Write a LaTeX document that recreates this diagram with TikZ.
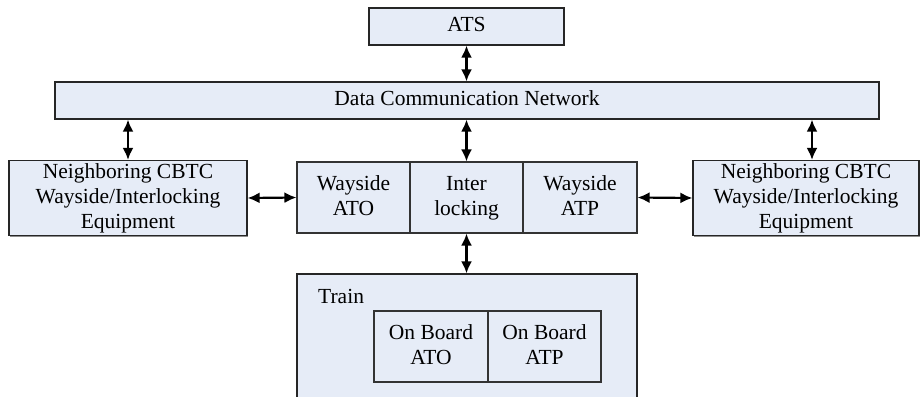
\documentclass[tikz,border=0pt]{standalone}
\usepackage{fontspec}
\setmainfont{Liberation Serif}
\usetikzlibrary{arrows.meta,shadows}
\definecolor{boxfill}{RGB}{230,236,247}
\tikzset{
  blk/.style={draw=black!85, line width=1.2bp, fill=boxfill, inner sep=0pt,
    align=center, font=\fontsize{21.5bp}{25bp}\selectfont,
    drop shadow={shadow xshift=1.4bp, shadow yshift=-1.4bp, fill=black!45, opacity=1}},
  inner/.style={draw=black!80, line width=1.1bp, fill=boxfill, inner sep=0pt,
    align=center, font=\fontsize{21.5bp}{25bp}\selectfont},
  link/.style={line width=2.2bp, {Latex[length=12bp,width=11bp]}-{Latex[length=12bp,width=11bp]}}
}
\begin{document}
\begin{tikzpicture}[x=1bp,y=-1bp]
  \useasboundingbox (0,0) rectangle (920,396);
  \clip (0,0) rectangle (920,396);

  % top level
  \node[blk, minimum width=195bp, minimum height=37bp] (ats) at (466.5,26.5) {\strut ATS};
  \node[blk, minimum width=824bp, minimum height=37bp] (dcn) at (467,100.5) {\strut Data Communication Network};

  % wayside equipment
  \node[blk, minimum width=238bp, minimum height=72bp] (lnb) at (128,198)
    {\strut Neighboring CBTC\\\strut Wayside/Interlocking\\\strut Equipment};
  \node[blk, minimum width=226bp, minimum height=72bp] (rnb) at (806,198)
    {\strut Neighboring CBTC\\\strut Wayside/Interlocking\\\strut Equipment};
  \node[blk, minimum width=340bp, minimum height=71bp] (core) at (467,197.5) {};
  \node[inner, minimum width=113bp, minimum height=71bp] (wato) at (353.5,197.5) {\strut Wayside\\\strut ATO};
  \node[inner, minimum width=113bp, minimum height=71bp] (intl) at (466.5,197.5) {\strut Inter\\\strut locking};
  \node[inner, minimum width=114bp, minimum height=71bp] (watp) at (580,197.5) {\strut Wayside\\\strut ATP};

  % train
  \node[blk, minimum width=340bp, minimum height=150bp] (train) at (467,349) {};
  \node[anchor=base west, inner sep=0pt, font=\fontsize{21.5bp}{25bp}\selectfont] (tlabel) at (318,303) {Train};
  \node[inner, minimum width=114bp, minimum height=71bp] (obato) at (431,346.5) {\strut On Board\\\strut ATO};
  \node[inner, minimum width=113bp, minimum height=71bp] (obatp) at (544.5,346.5) {\strut On Board\\\strut ATP};

  % connectors
  \coordinate (rtop) at ([xshift=6bp]rnb.north);
  \draw[link] (ats.south) -- (dcn.north -| ats.south);
  \draw[link] (dcn.south -| lnb.north) -- (lnb.north);
  \draw[link] (dcn.south -| intl.north) -- (intl.north);
  \draw[link] (dcn.south -| rtop) -- (rtop);
  \draw[link] (lnb.east) -- (wato.west);
  \draw[link] (watp.east) -- (rnb.west);
  \draw[link] (intl.south) -- (train.north -| intl.south);
\end{tikzpicture}
\end{document}
